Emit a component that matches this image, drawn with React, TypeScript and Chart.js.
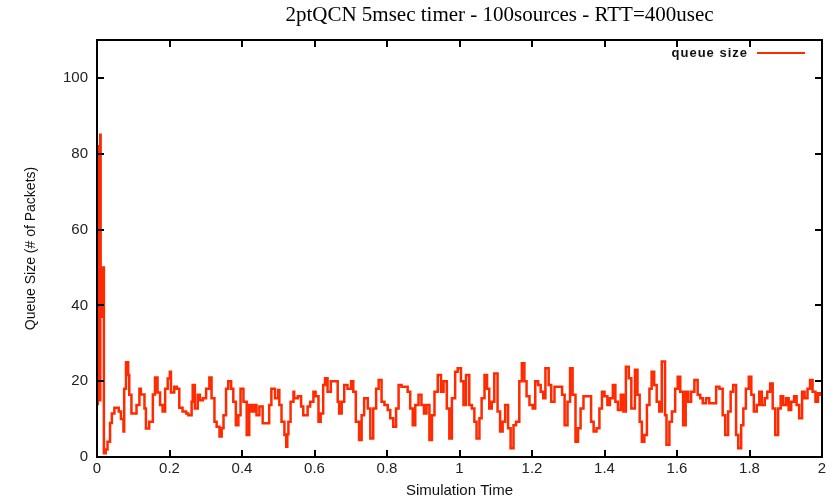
import React, { useEffect, useRef } from 'react';
import { Chart, registerables } from 'chart.js';

Chart.register(...registerables);

const TITLE = '2ptQCN 5msec timer - 100sources - RTT=400usec';
const X_LABEL = 'Simulation Time';
const Y_LABEL = 'Queue Size (# of Packets)';
const SERIES_LABEL = 'queue size';

const X_TICKS = [0, 0.2, 0.4, 0.6, 0.8, 1, 1.2, 1.4, 1.6, 1.8, 2];
const Y_TICKS = [0, 20, 40, 60, 80, 100];

const times = [
  0, 0.002, 0.003, 0.004, 0.005, 0.006, 0.007, 0.009, 0.010, 0.011, 0.012, 0.013, 0.014, 0.015, 0.016, 0.017,
  0.019, 0.024, 0.029, 0.036, 0.041, 0.048, 0.060, 0.066, 0.073, 0.075, 0.080, 0.086, 0.089, 0.095, 0.103,
  0.109, 0.117, 0.121, 0.131, 0.135, 0.144, 0.154, 0.160, 0.167, 0.174, 0.181, 0.188, 0.195, 0.201, 0.204,
  0.213, 0.220, 0.227, 0.236, 0.246, 0.252, 0.261, 0.264, 0.270, 0.278, 0.284, 0.292, 0.301, 0.310, 0.316,
  0.324, 0.330, 0.338, 0.344, 0.349, 0.356, 0.362, 0.370, 0.376, 0.383, 0.390, 0.396, 0.404, 0.413, 0.420,
  0.427, 0.434, 0.440, 0.448, 0.457, 0.475, 0.481, 0.491,
  0.500, 0.503, 0.509, 0.517, 0.522, 0.525, 0.528, 0.534, 0.542, 0.544, 0.554, 0.563, 0.569, 0.581, 0.588,
  0.597, 0.603, 0.611, 0.617, 0.624, 0.629, 0.636, 0.645, 0.664, 0.668, 0.675, 0.682, 0.691, 0.701, 0.707,
  0.714, 0.723, 0.730, 0.737, 0.747, 0.754, 0.762, 0.770, 0.777, 0.785, 0.793, 0.802, 0.809, 0.817, 0.825,
  0.832, 0.840, 0.857, 0.864, 0.871, 0.878, 0.887, 0.895, 0.902, 0.909, 0.917, 0.924, 0.931, 0.940, 0.949,
  0.956, 0.965, 0.972, 0.979, 0.988, 0.995,
  1.004, 1.011, 1.018, 1.027, 1.034, 1.041, 1.047, 1.055, 1.061, 1.069, 1.076, 1.082, 1.089, 1.096, 1.105,
  1.112, 1.119, 1.126, 1.134, 1.141, 1.149, 1.156, 1.165, 1.172, 1.179, 1.185, 1.193, 1.202, 1.209, 1.217,
  1.224, 1.231, 1.237, 1.246, 1.253, 1.262, 1.283, 1.290, 1.298, 1.305, 1.312, 1.320, 1.327, 1.334, 1.342,
  1.363, 1.370, 1.378, 1.386, 1.393, 1.400, 1.408, 1.415, 1.423, 1.430, 1.437, 1.445, 1.452, 1.459, 1.467,
  1.474, 1.484, 1.491,
  1.497, 1.503, 1.510, 1.517, 1.524, 1.530, 1.537, 1.544, 1.551, 1.558, 1.567, 1.571, 1.579, 1.586, 1.595,
  1.602, 1.609, 1.617, 1.624, 1.631, 1.639, 1.648, 1.657, 1.664, 1.671, 1.680, 1.689, 1.708, 1.717, 1.726,
  1.733, 1.741, 1.748, 1.755, 1.763, 1.769, 1.777, 1.783, 1.790, 1.798, 1.805, 1.812, 1.820, 1.827, 1.834,
  1.842, 1.849, 1.857, 1.864, 1.871, 1.879, 1.886, 1.893, 1.901, 1.908, 1.915, 1.923, 1.930, 1.937, 1.945,
  1.952, 1.960, 1.967, 1.974, 1.982, 1.989, 1.995, 2.000,
];

const queue = [
  14, 81, 15, 81, 16, 82, 15, 85, 37, 50, 37, 50, 37, 50, 37, 50,
  1, 2, 4, 9, 11.5, 13, 12, 10, 6.7, 18, 25, 21.6, 16.4, 11.5, 11.5,
  13.7, 18, 16.5, 12.8, 7.5, 9.3, 16.5, 21, 17, 13.7, 12, 18, 20.7, 22.5, 17,
  18.5, 18, 13, 12, 11.5, 11, 14.6, 19, 12.8, 16.4, 15, 15.5, 18, 21, 15.5,
  9.3, 8, 5.4, 7.6, 11, 18, 20, 18, 14.6, 8.4, 11, 18, 14.6, 5.8, 13.7,
  12, 13.7, 11, 13.3, 8.9, 13.7, 18, 15.5,
  17.7, 13.7, 9.3, 5.8, 2.7, 6, 9.3, 14.6, 17.2, 15.5, 16, 13.3, 11, 13.3, 14.6,
  17.2, 16, 9.3, 11.5, 19, 20.8, 17.2, 20, 14.6, 11.5, 14.6, 19, 18, 20, 17.2,
  9.3, 4.5, 11, 15.5, 12.8, 4.9, 12.8, 18, 20.3, 14.6, 13.7, 12.4, 10.2, 8, 12.8,
  19, 18.5, 17.2, 12.8, 8.4, 13.7, 16.4, 13.7, 11.5, 13.7, 4.5, 11, 17.2, 21.6, 17.2,
  20, 12.8, 4.9, 15.5, 22.5, 23.4,
  20, 13.7, 21.6, 13.7, 12.8, 9.3, 4.9, 10.2, 15.5, 21.6, 18, 12.8, 14.6, 22, 12,
  6.7, 9.3, 13.7, 7.6, 2.3, 8.4, 9.3, 20, 24.7, 20, 16, 13.7, 12.8, 20, 19,
  17.2, 15.5, 23.4, 19, 14.6, 18.5, 16.4, 8.4, 14.6, 23.4, 16.4, 4, 7.6, 12.8, 16,
  9.3, 6.7, 7.6, 12.8, 17.2, 16, 13.7, 15.5, 19, 14.6, 12.4, 16.4, 12, 23.8, 20.8,
  12.8, 23, 16.4,
  9.3, 4, 5.8, 13.7, 18, 22.5, 19, 14.6, 12, 25.2, 11, 3.2, 9.3, 12, 18,
  21.2, 17.2, 8.4, 17.2, 14.6, 17.2, 20.3, 16.4, 15.5, 14.2, 15.5, 14.2, 18.5, 18, 11,
  5.8, 12, 17.2, 19, 5.8, 2.3, 8.4, 12.8, 18, 21.2, 16.4, 12, 13.7, 17.2, 13.7,
  15.5, 17.2, 19.4, 12.8, 5.8, 12.8, 16, 13.7, 15.5, 12.4, 14.6, 16, 13.7, 10.2, 17.2,
  15.5, 18, 20.3, 17.2, 14.6, 16.8, 16.4, 17,
];

const LINE_COLOR = '#ff2a00';

const framePlugin = {
  id: 'gnuFrame',
  afterDatasetsDraw(chart: any) {
    const { ctx, chartArea: a, scales } = chart;
    const xs = scales.x;
    const ys = scales.y;
    ctx.save();
    ctx.strokeStyle = '#000';
    ctx.lineWidth = 2;
    ctx.strokeRect(a.left, a.top, a.right - a.left, a.bottom - a.top);
    const L = 7;
    ctx.beginPath();
    xs.ticks.forEach((t: any) => {
      const px = Math.round(xs.getPixelForValue(t.value));
      ctx.moveTo(px, a.bottom);
      ctx.lineTo(px, a.bottom - L);
      ctx.moveTo(px, a.top);
      ctx.lineTo(px, a.top + L);
    });
    ys.ticks.forEach((t: any) => {
      const py = Math.round(ys.getPixelForValue(t.value));
      ctx.moveTo(a.left, py);
      ctx.lineTo(a.left + L, py);
      ctx.moveTo(a.right, py);
      ctx.lineTo(a.right - L, py);
    });
    ctx.stroke();

    // key (legend) inside the plot, top right
    const ds = chart.data.datasets[0];
    const ky = a.top + 13;
    ctx.font = 'bold 13px "Liberation Sans", Arial, sans-serif';
    (ctx as any).letterSpacing = '1px';
    ctx.fillStyle = '#111';
    ctx.textAlign = 'right';
    ctx.textBaseline = 'middle';
    ctx.fillText(ds.label, a.right - 74, ky);
    (ctx as any).letterSpacing = '0px';
    ctx.strokeStyle = ds.borderColor;
    ctx.lineWidth = 2;
    ctx.beginPath();
    ctx.moveTo(a.right - 65, ky);
    ctx.lineTo(a.right - 17, ky);
    ctx.stroke();

    // plot title
    ctx.font = '21px "Liberation Serif", "Times New Roman", serif';
    ctx.fillStyle = '#000';
    ctx.textAlign = 'center';
    ctx.textBaseline = 'middle';
    ctx.fillText(TITLE, (a.left + a.right) / 2 + 40, 15);
    ctx.restore();
  },
};

export default function App() {
  const ref = useRef<HTMLCanvasElement | null>(null);

  useEffect(() => {
    if (!ref.current) return;
    const points = times.map((t, i) => ({ x: t, y: queue[i] }));
    const tickFont = { family: '"Liberation Sans", Arial, sans-serif', size: 15 };
    const chart = new Chart(ref.current, {
      type: 'line',
      data: {
        datasets: [
          {
            label: SERIES_LABEL,
            data: points,
            borderColor: LINE_COLOR,
            backgroundColor: LINE_COLOR,
            borderWidth: 2.5,
            pointRadius: 0,
            stepped: true,
            fill: false,
          },
        ],
      },
      options: {
        animation: false,
        responsive: false,
        maintainAspectRatio: false,
        layout: { padding: { left: 0, right: 15, top: 40, bottom: 0 } },
        plugins: {
          legend: { display: false },
          tooltip: { enabled: false },
          title: { display: false, text: TITLE },
        },
        scales: {
          x: {
            type: 'linear',
            min: 0,
            max: 2,
            grid: { display: false, drawTicks: false },
            border: { display: false },
            afterBuildTicks: (s: any) => {
              s.ticks = X_TICKS.map((v) => ({ value: v }));
            },
            afterFit: (s: any) => {
              s.height = 43;
            },
            ticks: {
              color: '#222',
              font: tickFont,
              padding: 3,
              maxRotation: 0,
              autoSkip: false,
              callback: (v: any) => String(Number(Number(v).toFixed(1))),
            },
            title: {
              display: true,
              text: X_LABEL,
              color: '#111',
              font: { family: '"Liberation Sans", Arial, sans-serif', size: 15 },
              padding: { top: 0, bottom: 0 },
            },
          },
          y: {
            type: 'linear',
            min: 0,
            max: 110,
            grid: { display: false, drawTicks: false },
            border: { display: false },
            afterBuildTicks: (s: any) => {
              s.ticks = Y_TICKS.map((v) => ({ value: v }));
            },
            afterFit: (s: any) => {
              s.width = 97;
            },
            ticks: {
              color: '#222',
              font: tickFont,
              padding: 9,
              autoSkip: false,
              callback: (v: any) => String(v),
            },
            title: {
              display: true,
              text: Y_LABEL,
              color: '#111',
              font: { family: '"Liberation Sans", Arial, sans-serif', size: 14 },
              padding: { top: 23, bottom: 0 },
            },
          },
        },
      },
      plugins: [framePlugin],
    });
    return () => chart.destroy();
  }, []);

  return (
    <div style={{ position: 'absolute', left: 0, top: 0, width: 837, height: 500, background: '#fff' }}>
      <canvas ref={ref} width={837} height={500} />
    </div>
  );
}
